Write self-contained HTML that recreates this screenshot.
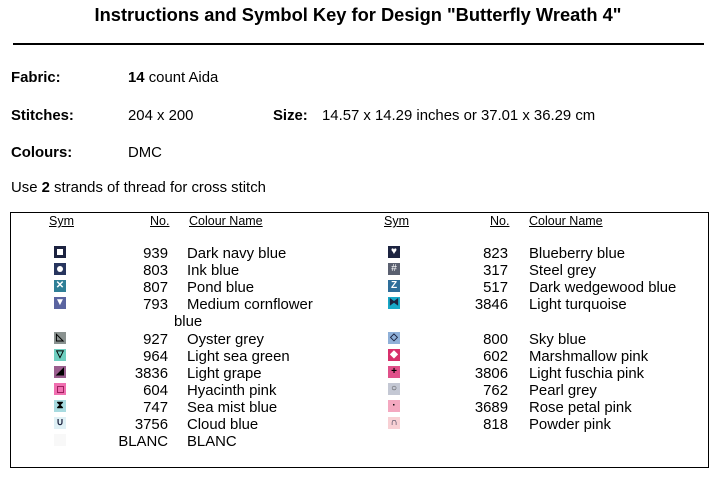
<!DOCTYPE html>
<html><head><meta charset="utf-8"><style>
body{margin:0;width:716px;height:480px;background:#fff;position:relative;overflow:hidden;font-family:"Liberation Sans",Arial,sans-serif;color:#000}
.a{position:absolute;white-space:nowrap;line-height:19px;font-size:14.9px}
.t{font-weight:bold;font-size:18.3px;left:0;width:716px;text-align:center;top:5px;line-height:20px}
.h{font-size:12.5px;text-decoration:underline;line-height:14px}
.n{text-align:right;width:80px}
.s{position:absolute;width:12px;height:12px;color:#fff;font-size:10px;line-height:12px;text-align:center;font-weight:bold}
</style></head><body>
<div class="a t">Instructions and Symbol Key for Design "Butterfly Wreath 4"</div>
<div style="position:absolute;left:13px;top:43px;width:691px;height:2px;background:#000"></div>
<div class="a" style="left:11px;top:69px;font-weight:bold">Fabric:</div>
<div class="a" style="left:128px;top:69px"><b>14</b> count Aida</div>
<div class="a" style="left:11px;top:107px;font-weight:bold">Stitches:</div>
<div class="a" style="left:128px;top:107px">204 x 200</div>
<div class="a" style="left:273px;top:107px;font-weight:bold">Size:</div>
<div class="a" style="left:322px;top:107px">14.57 x 14.29 inches or 37.01 x 36.29 cm</div>
<div class="a" style="left:11px;top:144px;font-weight:bold">Colours:</div>
<div class="a" style="left:128px;top:144px">DMC</div>
<div class="a" style="left:11px;top:179px">Use <b>2</b> strands of thread for cross stitch</div>
<div style="position:absolute;left:10px;top:212px;width:697px;height:254px;border:1px solid #000;border-bottom-width:1.5px;overflow:hidden">
</div>
<div class="a h" style="left:49px;top:214px">Sym</div>
<div class="a h" style="left:150px;top:214px">No.</div>
<div class="a h" style="left:189px;top:214px">Colour Name</div>
<div class="a h" style="left:384px;top:214px">Sym</div>
<div class="a h" style="left:490px;top:214px">No.</div>
<div class="a h" style="left:529px;top:214px">Colour Name</div>

<!-- left column -->
<div class="s" style="left:54px;top:246px;background:#1c2340"><div style="position:absolute;left:3px;top:3px;width:6px;height:6px;background:#fff"></div></div>
<div class="a n" style="left:88px;top:245px">939</div><div class="a" style="left:187px;top:245px">Dark navy blue</div>
<div class="s" style="left:54px;top:263px;background:#27355e"><div style="position:absolute;left:3px;top:3px;width:6px;height:6px;border-radius:50%;background:#fff"></div></div>
<div class="a n" style="left:88px;top:262px">803</div><div class="a" style="left:187px;top:262px">Ink blue</div>
<div class="s" style="left:54px;top:280px;background:#2f7f96">✕</div>
<div class="a n" style="left:88px;top:279px">807</div><div class="a" style="left:187px;top:279px">Pond blue</div>
<div class="s" style="left:54px;top:297px;background:#5a64a0">▼</div>
<div class="a n" style="left:88px;top:296px">793</div><div class="a" style="left:187px;top:296px">Medium cornflower</div>
<div class="a" style="left:174px;top:313px">blue</div>
<div class="s" style="left:54px;top:332px;background:#8a9290;color:#000">◺</div>
<div class="a n" style="left:88px;top:331px">927</div><div class="a" style="left:187px;top:331px">Oyster grey</div>
<div class="s" style="left:54px;top:349px;background:#6fcfc0;color:#000">▽</div>
<div class="a n" style="left:88px;top:348px">964</div><div class="a" style="left:187px;top:348px">Light sea green</div>
<div class="s" style="left:54px;top:366px;background:#9a5e8e;color:#000">◢</div>
<div class="a n" style="left:88px;top:365px">3836</div><div class="a" style="left:187px;top:365px">Light grape</div>
<div class="s" style="left:54px;top:383px;background:#f06fb0"><div style="position:absolute;left:3px;top:3px;width:5px;height:5px;border:1px solid #a02060"></div></div>
<div class="a n" style="left:88px;top:382px">604</div><div class="a" style="left:187px;top:382px">Hyacinth pink</div>
<div class="s" style="left:54px;top:400px;background:#a8dbe0;color:#000">⧗</div>
<div class="a n" style="left:88px;top:399px">747</div><div class="a" style="left:187px;top:399px">Sea mist blue</div>
<div class="s" style="left:54px;top:417px;background:#dff0f5;color:#1c2340">∪</div>
<div class="a n" style="left:88px;top:416px">3756</div><div class="a" style="left:187px;top:416px">Cloud blue</div>
<div class="s" style="left:54px;top:434px;background:#f8f8f8"></div>
<div class="a n" style="left:88px;top:433px">BLANC</div><div class="a" style="left:187px;top:433px">BLANC</div>

<!-- right column -->
<div class="s" style="left:388px;top:246px;background:#1c2340">♥</div>
<div class="a n" style="left:428px;top:245px">823</div><div class="a" style="left:529px;top:245px">Blueberry blue</div>
<div class="s" style="left:388px;top:263px;background:#5a6070;font-weight:normal">#</div>
<div class="a n" style="left:428px;top:262px">317</div><div class="a" style="left:529px;top:262px">Steel grey</div>
<div class="s" style="left:388px;top:280px;background:#2e6e9a">Z</div>
<div class="a n" style="left:428px;top:279px">517</div><div class="a" style="left:529px;top:279px">Dark wedgewood blue</div>
<div class="s" style="left:388px;top:297px;background:#18a8c8;color:#1c2340">⧓</div>
<div class="a n" style="left:428px;top:296px">3846</div><div class="a" style="left:529px;top:296px">Light turquoise</div>
<div class="s" style="left:388px;top:332px;background:#8fb0d8;color:#1c2340">◇</div>
<div class="a n" style="left:428px;top:331px">800</div><div class="a" style="left:529px;top:331px">Sky blue</div>
<div class="s" style="left:388px;top:349px;background:#d8306c">◆</div>
<div class="a n" style="left:428px;top:348px">602</div><div class="a" style="left:529px;top:348px">Marshmallow pink</div>
<div class="s" style="left:388px;top:366px;background:#e0508a;color:#000">+</div>
<div class="a n" style="left:428px;top:365px">3806</div><div class="a" style="left:529px;top:365px">Light fuschia pink</div>
<div class="s" style="left:388px;top:383px;background:#c4c8d4;color:#444;font-weight:normal">○</div>
<div class="a n" style="left:428px;top:382px">762</div><div class="a" style="left:529px;top:382px">Pearl grey</div>
<div class="s" style="left:388px;top:400px;background:#f4a8c0;color:#000">·</div>
<div class="a n" style="left:428px;top:399px">3689</div><div class="a" style="left:529px;top:399px">Rose petal pink</div>
<div class="s" style="left:388px;top:417px;background:#f8d0d4;color:#1c2340">∩</div>
<div class="a n" style="left:428px;top:416px">818</div><div class="a" style="left:529px;top:416px">Powder pink</div>
</body></html>
